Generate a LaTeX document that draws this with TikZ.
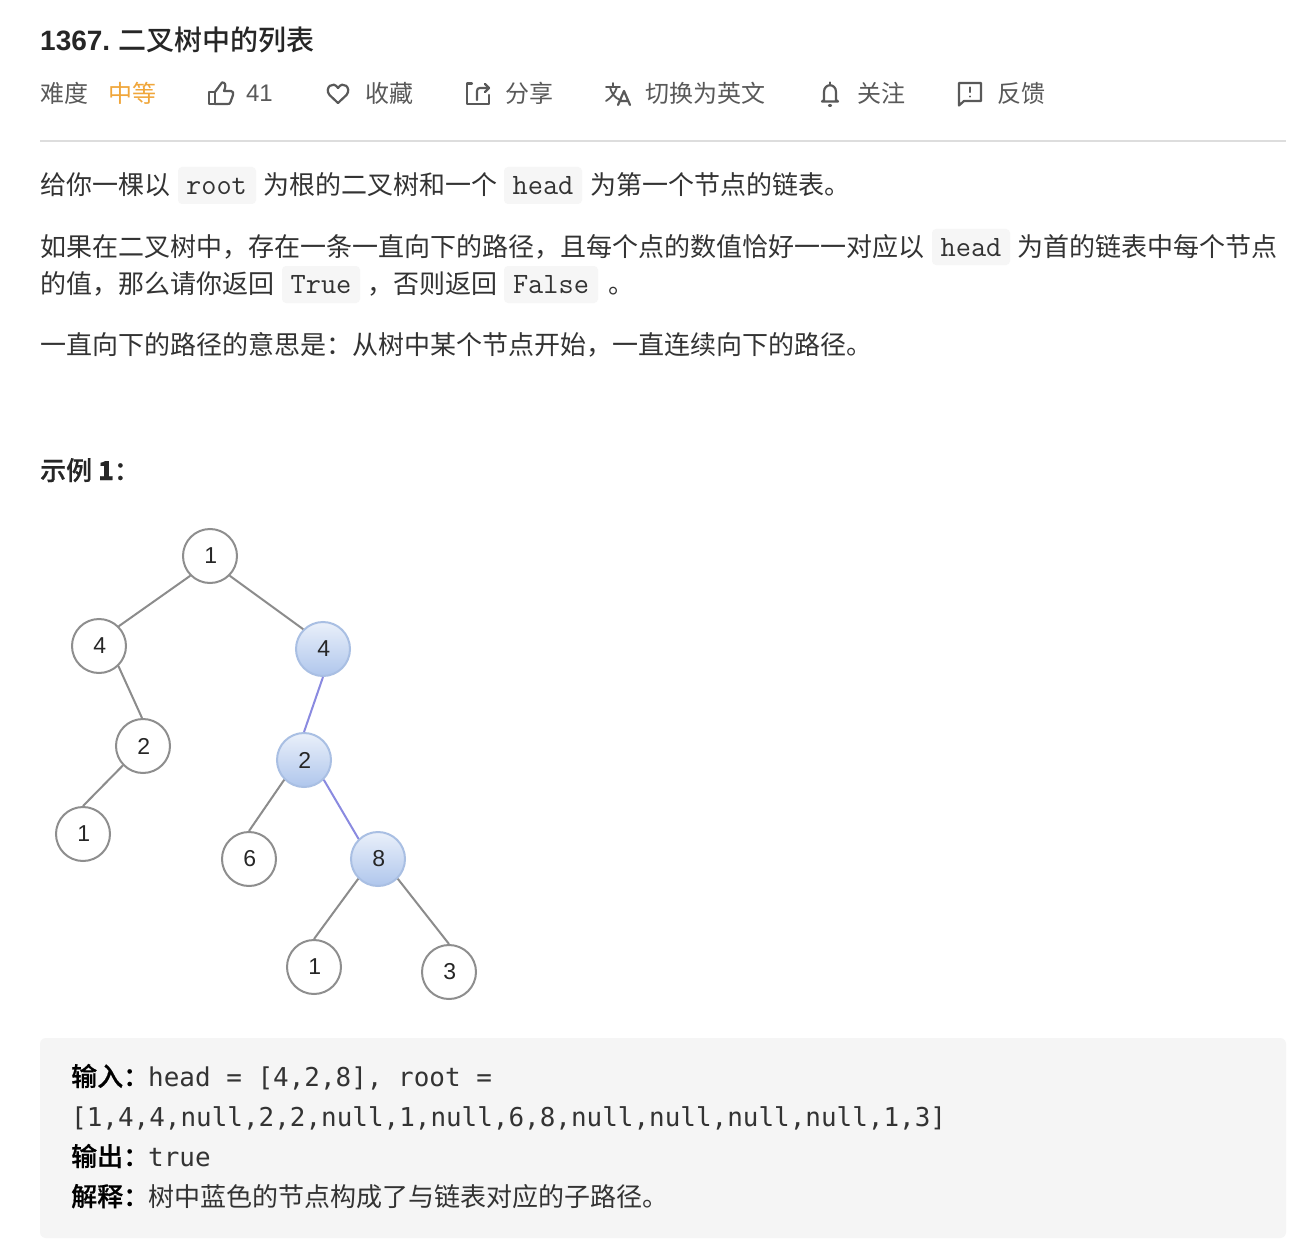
\documentclass[tikz,border=0pt]{standalone}
\usepackage{fontspec}
\setmainfont{Liberation Sans}
\newfontfamily\cjk{Noto Sans CJK SC}
\newfontfamily\cjkm{Noto Sans CJK SC Medium}
\newfontfamily\cjkb[FakeBold=0.5]{Noto Sans CJK SC Medium}
\newfontfamily\codeblk{DejaVu Sans Mono}
\newfontfamily\codeinl{Latin Modern Mono}
\newcommand{\fs}[1]{\fontsize{#1}{#1}\selectfont}
\newcommand{\dg}[1]{\raisebox{-1pt}{\hspace{1.5pt}#1}}
\definecolor{body}{HTML}{333333}
\definecolor{meta}{HTML}{595959}
\definecolor{titlec}{HTML}{262626}
\definecolor{orangec}{HTML}{F0A63A}
\definecolor{codebg}{HTML}{F6F6F6}
\definecolor{blockbg}{HTML}{F5F5F5}
\definecolor{rulec}{HTML}{DDDDDD}
\definecolor{edgec}{HTML}{8C8C8C}
\definecolor{ringc}{HTML}{8E8E8E}
\definecolor{blueedge}{HTML}{8A8AE0}
\definecolor{blueTop}{HTML}{EAF0FA}
\definecolor{blueBot}{HTML}{AFC6EC}
\definecolor{blueRing}{HTML}{A9BFE3}
\tikzset{
  x=1pt,y=-1pt,
  txt/.style={anchor=base west,inner sep=0pt,outer sep=0pt,text=body,font=\cjk\fs{26}},
  metatxt/.style={anchor=base west,inner sep=0pt,outer sep=0pt,text=meta,font=\cjk\fs{24}},
  inl/.style={anchor=base,inner sep=0pt,text=body,font=\codeinl\fs{29.5}},
  blk/.style={anchor=base west,inner sep=0pt,text=body,font=\codeblk\fs{25.95}},
  blkb/.style={anchor=base west,inner sep=0pt,text=black,font=\cjkb\fs{26}},
  plainnode/.style={circle,draw=ringc,line width=2pt,fill=white,minimum size=54pt,inner sep=0pt,text=black!85,font=\fs{23}},
  bluenode/.style={circle,draw=blueRing,line width=2pt,top color=blueTop,bottom color=blueBot,minimum size=54pt,inner sep=0pt,text=black!85,font=\fs{23}},
  treeedge/.style={draw=edgec,line width=2pt},
  blueline/.style={draw=blueedge,line width=2pt},
  icon/.style={draw=meta,line width=2.2pt,line join=round,line cap=round},
}
\begin{document}
\begin{tikzpicture}
\useasboundingbox (0,0) rectangle (1304,1260);
\fill[white] (0,0) rectangle (1304,1260);
% header
\node[anchor=base west,inner sep=0pt,text=titlec,font=\bfseries\fs{28}] (t1) at (40,51) {1367.};
\node[anchor=base west,inner sep=0pt,text=titlec,font=\cjkm\fs{28}] (t2) at (118,51) {二叉树中的列表};
\node[metatxt] (m1) at (40,103) {难度};
\node[metatxt,text=orangec] (m2) at (108,103) {中等};
\node[metatxt,font=\fs{24}] (m3) at (246,102) {41};
\node[metatxt] (m4) at (365,103) {收藏};
\node[metatxt] (m5) at (505,103) {分享};
\node[metatxt] (m6) at (645,103) {切换为英文};
\node[metatxt] (m7) at (857,103) {关注};
\node[metatxt] (m8) at (997,103) {反馈};
% icons
\draw[icon] (209,92) rectangle (215,104);
\draw[icon] (215,92) -- (222,82.5) .. controls (225,82) and (226,85) .. (225,88) -- (224,91) -- (231,91) .. controls (233,91) and (233.5,93) .. (233,95) -- (230.5,102) .. controls (230,104) and (229,104) .. (227,104) -- (215,104);
\draw[icon] (338,103) -- (329.5,95) .. controls (324,88) and (333,80) .. (338,88) .. controls (343,80) and (352,88) .. (346.5,95) -- cycle;
\draw[icon] (472,83.5) -- (467,83.5) -- (467,104) -- (489,104) -- (489,95);
\draw[icon] (477,100) -- (477,91) .. controls (477,89) and (478,88) .. (480,88) -- (489,88);
\draw[icon] (485,84) -- (489,88) -- (485,92);
\draw[icon,line width=1.8pt] (606,87) -- (620,87) (613,83) -- (613,87) (610,87) .. controls (611,93) and (615,98) .. (620,100) (617,87) .. controls (615,93) and (611,98) .. (606,101);
\draw[icon,line width=2.2pt] (618,105) -- (624,91) -- (630,105) (620,101) -- (628,101);
\draw[icon] (824,100) -- (824,92) .. controls (824,83) and (836,83) .. (836,92) -- (836,100) -- (838,101.5) -- (822,101.5) -- cycle;
\draw[icon] (830,82.5) -- (830,84);
\draw[icon] (829,105.5) -- (831,105.5);
\draw[icon] (959,83) -- (981,83) -- (981,101) -- (964,101) -- (959,105.5) -- cycle;
\draw[icon] (970,87.5) -- (970,92) (970,96.5) -- (970,96.6);
\draw[rulec,line width=2pt] (40,141) -- (1286,141);
% paragraph 1
\node[txt] (p1a) at (40,195) {给你一棵以};
\fill[codebg,rounded corners=4pt] (178,167) rectangle (256,204);
\node[inl] (p1b) at (216.5,195) {root};
\node[txt] (p1c) at (263,195) {为根的二叉树和一个};
\fill[codebg,rounded corners=4pt] (504,167) rectangle (582,204);
\node[inl] (p1d) at (543,195) {head};
\node[txt] (p1e) at (590,195) {为第一个节点的链表。};
% paragraph 2
\node[txt] (p2a) at (40,256) {如果在二叉树中，存在一条一直向下的路径，且每个点的数值恰好一一对应以};
\fill[codebg,rounded corners=4pt] (932,229) rectangle (1010,265);
\node[inl] (p2b) at (971,257) {head};
\node[txt] (p2c) at (1017,256) {为首的链表中每个节点};
\node[txt] (p2d) at (40,293) {的值，那么请你返回};
\fill[codebg,rounded corners=4pt] (282,266) rectangle (360,303);
\node[inl] (p2e) at (321,293) {True};
\node[txt] (p2f) at (367,293) {，否则返回};
\fill[codebg,rounded corners=4pt] (504,266) rectangle (598,303);
\node[inl] (p2g) at (551,293) {False};
\node[txt] (p2h) at (608,293) {。};
% paragraph 3
\node[txt] (p3) at (40,354) {一直向下的路径的意思是：从树中某个节点开始，一直连续向下的路径。};
% example head
\node[anchor=base west,inner sep=0pt,text=titlec,font=\cjkb\fs{26}] (ex) at (40,480) {示例 \textbf{1}：};
% tree
\node[plainnode] (n1) at (210,556) {\dg{1}};
\node[plainnode] (n2) at (99,646) {\dg{4}};
\node[bluenode] (n3) at (323,649) {\dg{4}};
\node[plainnode] (n4) at (143,746) {\dg{2}};
\node[bluenode] (n5) at (304,760) {\dg{2}};
\node[plainnode] (n6) at (83,834) {\dg{1}};
\node[plainnode] (n7) at (249,859) {\dg{6}};
\node[bluenode] (n8) at (378,859) {\dg{8}};
\node[plainnode] (n9) at (314,967) {\dg{1}};
\node[plainnode] (n10) at (449,972) {\dg{3}};
\draw[treeedge] (n1.225) -- (n2.45);
\draw[treeedge] (n1.-45) -- (n3.135);
\draw[treeedge] (n2.-46) -- (n4.92);
\draw[treeedge] (n4.224) -- (n6.90);
\draw[blueline] (n3.270) -- (n5.90);
\draw[treeedge] (n5.225) -- (n7.90);
\draw[blueline] (n5.-45) -- (n8.134);
\draw[treeedge] (n8.225) -- (n9.90);
\draw[treeedge] (n8.-45) -- (n10.90);
% block
\fill[blockbg,rounded corners=6pt] (40,1038) rectangle (1286,1238);
\node[blkb] (b1) at (71,1086) {输入：};
\node[blk] (b2) at (148,1086) {head = [4,2,8], root =};
\node[blk] (b3) at (71,1126) {[1,4,4,null,2,2,null,1,null,6,8,null,null,null,null,1,3]};
\node[blkb] (b4) at (71,1166) {输出：};
\node[blk] (b5) at (148,1166) {true};
\node[blkb] (b6) at (71,1206) {解释：};
\node[txt] (b7) at (148,1206) {树中蓝色的节点构成了与链表对应的子路径。};
\end{tikzpicture}
\end{document}
